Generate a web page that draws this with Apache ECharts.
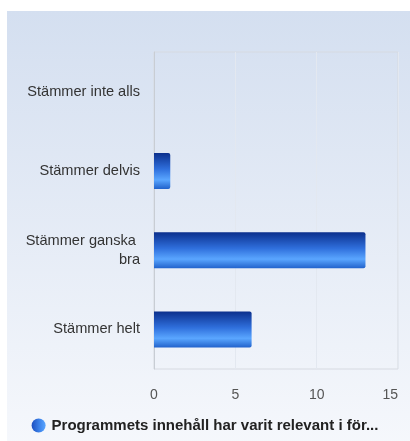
<!DOCTYPE html>
<html><head><meta charset="utf-8">
<script src="https://cdn.jsdelivr.net/npm/echarts@6/dist/echarts.min.js"></script>
<style>html,body{margin:0;padding:0;background:#fff}#c{width:410px;height:441px}</style>
</head><body><div id="c"></div>
<script>
var categories = ['Stämmer inte alls', 'Stämmer delvis', 'Stämmer ganska bra', 'Stämmer helt'];
var values = [0, 1, 13, 6];
var seriesName = 'Programmets innehåll har varit relevant i för...';
var xTicks = [0, 5, 10, 15];

var barGrad = new echarts.graphic.LinearGradient(0, 0, 0, 1, [
  {offset: 0, color: '#0b2f8c'},
  {offset: 0.45, color: '#2f6fdc'},
  {offset: 0.75, color: '#5aa6ff'},
  {offset: 1, color: '#2263cc'}
]);
var iconGrad = new echarts.graphic.LinearGradient(0, 0, 1, 0, [
  {offset: 0, color: '#1d4fc0'},
  {offset: 0.6, color: '#3f86ec'},
  {offset: 1, color: '#5aa6ff'}
]);
var chart = echarts.init(document.getElementById('c'), null, {renderer: 'canvas'});
chart.setOption({
  backgroundColor: '#ffffff',
  animation: false,
  graphic: [{
    type: 'rect', z: -10, silent: true,
    shape: {x: 7, y: 11, width: 410, height: 440},
    style: {fill: new echarts.graphic.LinearGradient(0, 0, 0, 1, [
      {offset: 0, color: '#d4dff0'},
      {offset: 1, color: '#f6f8fc'}
    ])}
  }],
  grid: {left: 154, right: 12, top: 52, bottom: 72, show: true, borderColor: '#d6dae1', borderWidth: 1, backgroundColor: 'transparent'},
  legend: {
    bottom: 3, left: 'center', icon: 'circle', itemWidth: 14, itemHeight: 14, itemGap: 4,
    padding: [5, 0, 5, 12],
    textStyle: {fontFamily: 'Liberation Sans, Arial', fontSize: 15, fontWeight: 'bold', color: '#222', padding: [0, 0, 0, 1]},
    data: [{name: seriesName, itemStyle: {color: iconGrad}}]
  },
  xAxis: {
    type: 'value', min: xTicks[0], max: xTicks[xTicks.length - 1], interval: 5,
    axisLine: {show: false}, axisTick: {show: false},
    splitLine: {lineStyle: {color: '#e3e8f0'}},
    axisLabel: {margin: 19, fontFamily: 'Liberation Sans, Arial', fontSize: 14, color: '#555', alignMaxLabel: 'right'}
  },
  yAxis: {
    type: 'category', inverse: true, data: categories,
    axisLine: {lineStyle: {color: '#c8cdd4'}}, axisTick: {show: false},
    axisLabel: {margin: 14, width: 122, overflow: 'break', align: 'right', padding: [4, 0, 0, 0], fontFamily: 'Liberation Sans, Arial', fontSize: 14.6, color: '#333', lineHeight: 19}
  },
  series: [{
    name: seriesName, type: 'bar', data: values, barWidth: 36,
    itemStyle: {color: barGrad, borderRadius: [0, 2, 2, 0]}
  }]
});
</script></body></html>
